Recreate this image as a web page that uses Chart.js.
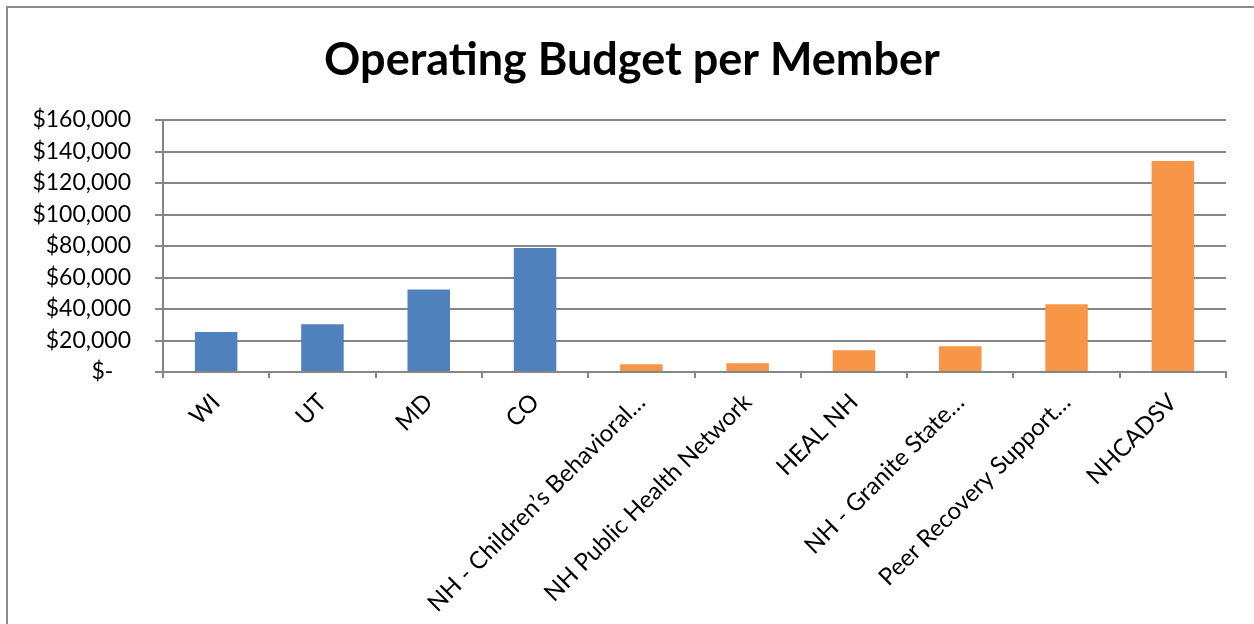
<!DOCTYPE html>
<html>
<head>
<meta charset="utf-8">
<script src="https://cdn.jsdelivr.net/npm/chart.js@4.4.1/dist/chart.umd.min.js"></script>
<style>
    html, body { margin: 0; padding: 0; background: #fff; overflow: hidden; }
    #frame {
        position: absolute; left: 6px; top: 6px; width: 1400px; height: 800px;
        border: 2px solid #8c8c8c; box-sizing: border-box;
    }
    #wrap { position: absolute; left: 0; top: 0; width: 1254px; height: 624px; }
</style>
</head>
<body>
<div id="frame"></div>
<div id="wrap"><canvas id="chart" width="1254" height="624"></canvas></div>
<script>
const categories = [
    'WI', 'UT', 'MD', 'CO',
    'NH - Children\u2019s Behavioral\u2026',
    'NH Public Health Network',
    'HEAL NH',
    'NH - Granite State\u2026',
    'Peer Recovery Support\u2026',
    'NHCADSV'
];
const budgetPerMember = [25400, 30300, 52400, 78800, 4900, 5500, 13800, 16300, 43000, 133900];
const barColors = [
    '#4F81BD', '#4F81BD', '#4F81BD', '#4F81BD',
    '#F79646', '#F79646', '#F79646', '#F79646', '#F79646', '#F79646'
];
const yTicks = [0, 20000, 40000, 60000, 80000, 100000, 120000, 140000, 160000];

const gridGray = '#868686';

function formatDollar(v) {
    if (v === 0) return '$-   ';
    return '$' + v.toLocaleString('en-US');
}

// title box normally ends at the right padding; widen it so the text centres near x=632
const titleShift = {
    id: 'titleShift',
    afterLayout(chart) {
        if (chart.titleBlock) chart.titleBlock.right = chart.width + 10;
    }
};

const ctx = document.getElementById('chart').getContext('2d');

new Chart(ctx, {
    type: 'bar',
    data: {
        labels: categories,
        datasets: [{
            data: budgetPerMember,
            backgroundColor: barColors,
            borderWidth: 0,
            barPercentage: 0.4,
            categoryPercentage: 1.0
        }]
    },
    options: {
        responsive: false,
        animation: false,
        events: [],
        layout: { padding: { left: 0, right: 28, top: 0, bottom: 0 } },
        plugins: {
            legend: { display: false },
            tooltip: { enabled: false },
            title: {
                display: true,
                text: 'Operating Budget per Member',
                color: '#000',
                font: { family: 'Lato', size: 45, weight: 'bold', lineHeight: 1.2 },
                padding: { top: 33, bottom: 33 }
            }
        },
        scales: {
            x: {
                offset: true,
                grid: {
                    offset: true,
                    drawOnChartArea: false,
                    drawTicks: true,
                    tickLength: 6,
                    color: gridGray,
                    lineWidth: 2
                },
                border: { display: true, color: gridGray, width: 2 },
                ticks: {
                    autoSkip: false,
                    maxRotation: 45,
                    minRotation: 45,
                    padding: 10,
                    color: '#000',
                    font: { family: 'Lato', size: 24 }
                },
                afterFit: (scale) => { scale.height = 252; }
            },
            y: {
                min: 0,
                max: 160000,
                afterBuildTicks: (scale) => {
                    scale.ticks = yTicks.map(v => ({ value: v }));
                },
                grid: {
                    drawTicks: true,
                    tickLength: 8,
                    color: gridGray,
                    lineWidth: 2
                },
                border: { display: true, color: gridGray, width: 2 },
                ticks: {
                    padding: 24,
                    color: '#000',
                    font: { family: 'Lato', size: 23 },
                    callback: (v) => formatDollar(v)
                },
                afterFit: (scale) => { scale.width = 163; }
            }
        }
    },
    plugins: [titleShift]
});
</script>
</body>
</html>
